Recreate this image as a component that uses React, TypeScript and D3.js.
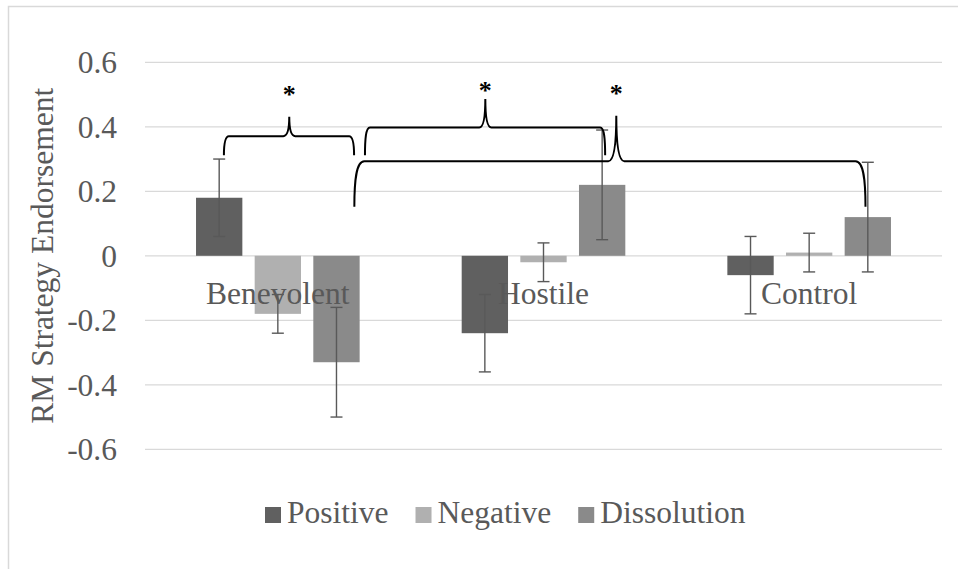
import React, { useEffect, useRef } from "react";
import * as d3 from "d3";

const categories = ["Benevolent", "Hostile", "Control"];
const series = ["Positive", "Negative", "Dissolution"];
const positiveValues = [0.18, -0.24, -0.06];
const negativeValues = [-0.18, -0.02, 0.01];
const dissolutionValues = [-0.33, 0.22, 0.12];
const positiveErrors = [0.12, 0.12, 0.12];
const negativeErrors = [0.06, 0.06, 0.06];
const dissolutionErrors = [0.17, 0.17, 0.17];
const yTicks = [0.6, 0.4, 0.2, 0, -0.2, -0.4, -0.6];
const yTickLabels = ["0.6", "0.4", "0.2", "0", "-0.2", "-0.4", "-0.6"];
const seriesColors = ["#606060", "#b0b0b0", "#8a8a8a"];
const yAxisTitle = "RM Strategy Endorsement";

// significance braces, x in category-index units (0..3), y in data units
const braceX0 = [0.297, 0.828, 0.788];
const braceX1 = [0.787, 1.732, 2.712];
const braceXPeak = [0.543, 1.281, 1.774];
const braceYEnd = [0.312, 0.312, 0.152];
const braceYLine = [0.371, 0.398, 0.293];
const braceYPeak = [0.431, 0.486, 0.434];
const starY = [0.516, 0.529, 0.521];

const W = 958;
const H = 569;

export default function App() {
  const ref = useRef<SVGSVGElement>(null);

  useEffect(() => {
    const svg = d3.select(ref.current);
    svg.selectAll("*").remove();

    const font = "Liberation Serif, Tinos, Times New Roman, Times, DejaVu Serif, serif";
    const textColor = "#595959";
    const fs = 31.5;

    // chart border
    svg.append("rect").attr("x", 8.5).attr("y", 6.5).attr("width", W + 20).attr("height", H + 20)
      .attr("fill", "white").attr("stroke", "#d9d9d9").attr("stroke-width", 1.5);

    const y = d3.scaleLinear().domain([-0.6, 0.6]).range([449.3, 62.3]);
    const x = d3.scaleBand<string>().domain(categories).range([145, 942]).padding(0);
    const xi = d3.scaleLinear().domain([0, 3]).range([145, 942]);
    const xs = d3.scaleBand<string>().domain(series).range([0, x.bandwidth()])
      .paddingInner(0.21).paddingOuter(0.87);

    // gridlines
    svg.append("g").selectAll("line").data(yTicks).join("line")
      .attr("x1", 145).attr("x2", 942)
      .attr("y1", (d) => y(d)).attr("y2", (d) => y(d))
      .attr("stroke", "#d9d9d9").attr("stroke-width", 1.3);

    // tick labels
    svg.append("g").selectAll("text").data(yTicks).join("text")
      .attr("x", 117).attr("y", (d) => y(d) + 11)
      .attr("text-anchor", "end")
      .style("font-family", font).attr("font-size", fs).attr("fill", textColor)
      .text((d, i) => yTickLabels[i]);

    // y axis title
    svg.append("text")
      .attr("transform", `translate(53, ${y(0)}) rotate(-90)`)
      .attr("text-anchor", "middle")
      .style("font-family", font).attr("font-size", fs).attr("fill", textColor)
      .text(yAxisTitle);

    const values = [positiveValues, negativeValues, dissolutionValues];
    const errors = [positiveErrors, negativeErrors, dissolutionErrors];

    const rows: { cat: string; ser: string; v: number; e: number; color: string }[] = [];
    categories.forEach((c, ci) => {
      series.forEach((s, si) => {
        rows.push({ cat: c, ser: s, v: values[si][ci], e: errors[si][ci], color: seriesColors[si] });
      });
    });

    // bars
    svg.append("g").selectAll("rect").data(rows).join("rect")
      .attr("x", (d) => (x(d.cat) as number) + (xs(d.ser) as number))
      .attr("width", xs.bandwidth())
      .attr("y", (d) => Math.min(y(d.v), y(0)))
      .attr("height", (d) => Math.abs(y(d.v) - y(0)))
      .attr("fill", (d) => d.color);

    // error bars
    const eg = svg.append("g").attr("stroke", "#595959").attr("stroke-width", 1.4).attr("fill", "none");
    rows.forEach((d) => {
      const cx = (x(d.cat) as number) + (xs(d.ser) as number) + xs.bandwidth() / 2;
      const yt = y(d.v + d.e);
      const yb = y(d.v - d.e);
      eg.append("line").attr("x1", cx).attr("x2", cx).attr("y1", yt).attr("y2", yb);
      eg.append("line").attr("x1", cx - 6).attr("x2", cx + 6).attr("y1", yt).attr("y2", yt);
      eg.append("line").attr("x1", cx - 6).attr("x2", cx + 6).attr("y1", yb).attr("y2", yb);
    });

    // category labels
    svg.append("g").selectAll("text").data(categories).join("text")
      .attr("x", (d) => (x(d) as number) + x.bandwidth() / 2)
      .attr("y", 304)
      .attr("text-anchor", "middle")
      .style("font-family", font).attr("font-size", fs).attr("fill", textColor)
      .text((d) => d);

    // braces
    const bg = svg.append("g").attr("stroke", "black").attr("stroke-width", 2).attr("fill", "none");
    braceX0.forEach((_, i) => {
      const x0 = xi(braceX0[i]);
      const x1 = xi(braceX1[i]);
      const xm = xi(braceXPeak[i]);
      const ye = y(braceYEnd[i]);
      const yl = y(braceYLine[i]);
      const yp = y(braceYPeak[i]);
      const r = i === 2 ? 10 : 5;
      const w = i === 2 ? 8 : 6;
      const p = d3.path();
      p.moveTo(x0, ye);
      p.bezierCurveTo(x0, ye - (ye - yl) * 0.55, x0 + r * 0.15, yl, x0 + r, yl);
      p.lineTo(xm - w, yl);
      p.bezierCurveTo(xm - w * 0.2, yl, xm, yl - (yl - yp) * 0.45, xm, yp);
      p.bezierCurveTo(xm, yl - (yl - yp) * 0.45, xm + w * 0.2, yl, xm + w, yl);
      p.lineTo(x1 - r, yl);
      p.bezierCurveTo(x1 - r * 0.15, yl, x1, ye - (ye - yl) * 0.55, x1, ye);
      bg.append("path").attr("d", p.toString());
      svg.append("text")
        .attr("x", xm).attr("y", y(starY[i]) + 14)
        .attr("text-anchor", "middle")
        .style("font-family", font).attr("font-size", 26).attr("font-weight", "bold")
        .attr("fill", "black").text("*");
    });

    // legend
    const lg = svg.append("g");
    let lx = 265;
    const ly = 523;
    series.forEach((s, i) => {
      lg.append("rect").attr("x", lx).attr("y", ly - 16).attr("width", 16).attr("height", 16)
        .attr("fill", seriesColors[i]);
      const t = lg.append("text").attr("x", lx + 22).attr("y", ly)
        .style("font-family", font).attr("font-size", fs).attr("fill", textColor).text(s);
      const tw = (t.node() as SVGTextElement).getComputedTextLength();
      lx = lx + 22 + tw + 27;
    });
  }, []);

  return (
    <svg ref={ref} width={W} height={H} style={{ position: "absolute", left: 0, top: 0, display: "block" }} />
  );
}
